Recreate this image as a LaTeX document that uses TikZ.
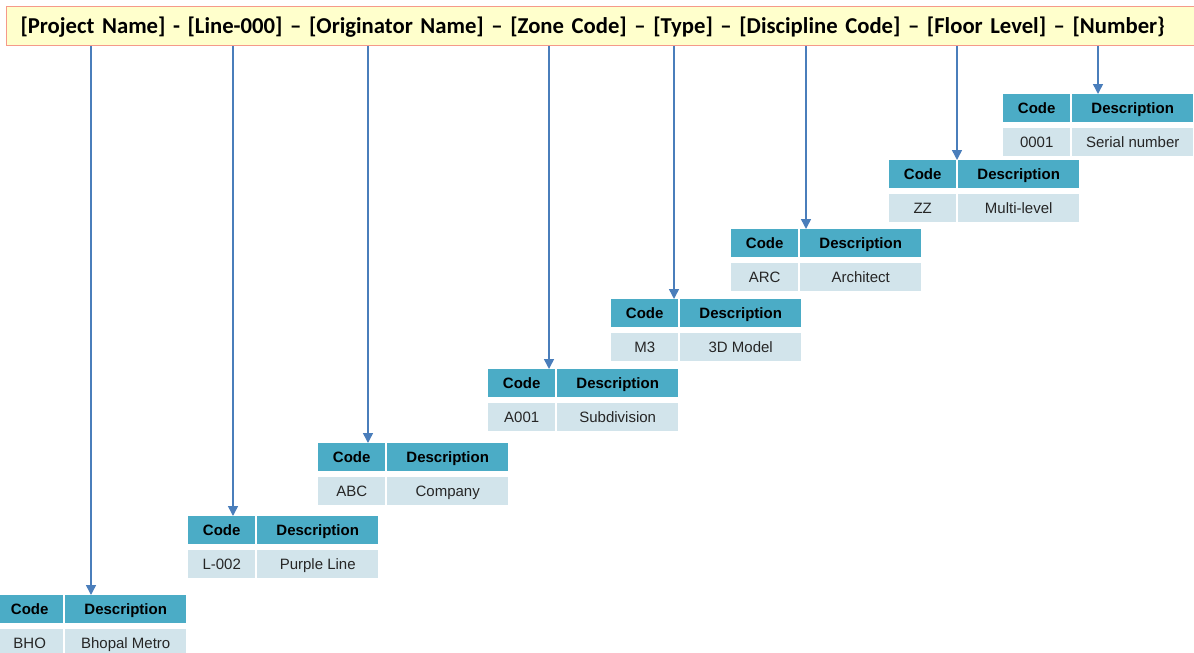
\documentclass[tikz,border=0pt]{standalone}
\usepackage{fontspec}
\setmainfont{Liberation Sans}
\newfontfamily\titlefont{Carlito}
\usetikzlibrary{arrows.meta}

\definecolor{titlefill}{HTML}{FFFFCC}
\definecolor{titleedge}{HTML}{F59A8A}
\definecolor{headcell}{HTML}{4BACC6}
\definecolor{datacell}{HTML}{D2E4EB}
\definecolor{arrowblue}{HTML}{4A7EBB}

\tikzset{
  titlebox/.style={draw=titleedge, fill=titlefill, line width=1pt, anchor=north west,
    minimum height=39pt, text width=1180pt, inner xsep=14pt, inner ysep=0pt,
    text height=14.6pt, text depth=0pt,
    align=left, font=\titlefont\bfseries\fontsize{22.7}{27}\selectfont},
  cell/.style={anchor=north west, inner sep=0pt, minimum height=28pt,
    text height=10.8pt, text depth=0pt,
    font=\fontsize{15}{18}\selectfont},
  codehead/.style={cell, fill=headcell, minimum width=67pt, font=\bfseries\fontsize{15}{18}\selectfont},
  deschead/.style={cell, fill=headcell, minimum width=121pt, font=\bfseries\fontsize{15}{18}\selectfont},
  codedata/.style={cell, fill=datacell, minimum width=67pt, text=black!85},
  descdata/.style={cell, fill=datacell, minimum width=121pt, text=black!85},
  link/.style={draw=arrowblue, line width=1.5pt, -{Triangle[width=10pt,length=10pt]}}
}

% one code table: #1 name, #2 left x, #3 top y, #4 code, #5 description
\newcommand\codetable[5]{%
  \node[codehead] (#1ch) at (#2,#3) {Code};
  \node[deschead] (#1dh) at (#2+69,#3) {Description};
  \node[codedata] (#1cd) at (#2,#3+34) {#4};
  \node[descdata] (#1dd) at (#2+69,#3+34) {#5};
}

\begin{document}
\begin{tikzpicture}[x=1pt,y=-1pt]
\useasboundingbox (0,0) rectangle (1194,653);

\node[titlebox] (title) at (6,6)
  {[Project Name] - [Line-000] – [Originator Name] – [Zone Code] – [Type] – [Discipline Code] – [Floor Level] – [Number\}};

\codetable{t1}{-4}{595}{BHO}{Bhopal Metro}
\codetable{t2}{188}{516}{L-002}{Purple Line}
\codetable{t3}{318}{443}{ABC}{Company}
\codetable{t4}{488}{369}{A001}{Subdivision}
\codetable{t5}{611}{299}{M3}{3D Model}
\codetable{t6}{731}{229}{ARC}{Architect}
\codetable{t7}{889}{160}{ZZ}{Multi-level}
\codetable{t8}{1003}{94}{0001}{Serial number}

% connector start points along the lower edge of the title bar
\coordinate (s1) at (title.south -| 91,0);
\coordinate (s2) at (title.south -| 233,0);
\coordinate (s3) at (title.south -| 368,0);
\coordinate (s4) at (title.south -| 549,0);
\coordinate (s5) at (title.south -| 674,0);
\coordinate (s6) at (title.south -| 806,0);
\coordinate (s7) at (title.south -| 957,0);
\coordinate (s8) at (title.south -| 1098,0);

\draw[link] (s1) -- (s1 |- t1dh.north);
\draw[link] (s2) -- (s2 |- t2ch.north);
\draw[link] (s3) -- (s3 |- t3ch.north);
\draw[link] (s4) -- (s4 |- t4ch.north);
\draw[link] (s5) -- (s5 |- t5ch.north);
\draw[link] (s6) -- (s6 |- t6dh.north);
\draw[link] (s7) -- (s7 |- t7ch.north);
\draw[link] (s8) -- (s8 |- t8dh.north);
\end{tikzpicture}
\end{document}
